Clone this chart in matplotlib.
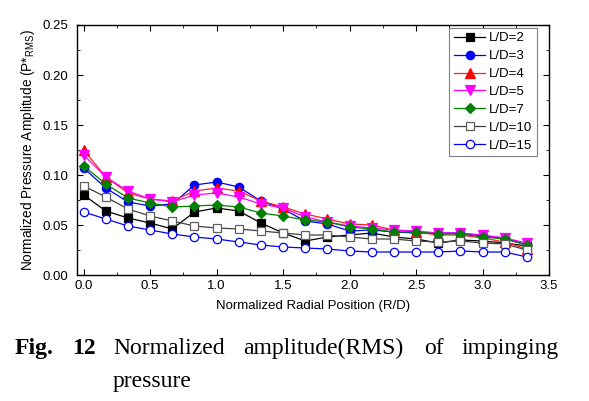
import matplotlib
matplotlib.use("Agg")
import matplotlib.pyplot as plt
from matplotlib.ticker import MultipleLocator

plt.rcParams['font.family'] = ['Liberation Sans', 'DejaVu Sans']
plt.rcParams['mathtext.fontset'] = 'custom'
plt.rcParams['mathtext.rm'] = 'Liberation Sans'
plt.rcParams['mathtext.it'] = 'Liberation Sans:italic'

x = [0, 1/6, 2/6, 3/6, 4/6, 5/6, 1.0, 7/6, 8/6, 9/6, 10/6, 11/6, 2.0,
     13/6, 14/6, 15/6, 16/6, 17/6, 3.0, 19/6, 20/6]

ld2 = [0.080, 0.064, 0.057, 0.052, 0.046, 0.063, 0.067, 0.064, 0.052, 0.042, 0.034, 0.038, 0.040,
       0.042, 0.038, 0.036, 0.032, 0.035, 0.034, 0.032, 0.029]
ld3 = [0.107, 0.087, 0.073, 0.069, 0.071, 0.090, 0.093, 0.088, 0.074, 0.066, 0.054, 0.051, 0.044,
       0.045, 0.043, 0.042, 0.042, 0.042, 0.039, 0.037, 0.030]
ld4 = [0.125, 0.098, 0.082, 0.076, 0.074, 0.084, 0.087, 0.084, 0.074, 0.068, 0.061, 0.056, 0.051,
       0.050, 0.045, 0.043, 0.040, 0.040, 0.037, 0.033, 0.026]
ld5 = [0.120, 0.098, 0.084, 0.076, 0.073, 0.080, 0.082, 0.078, 0.071, 0.067, 0.058, 0.053, 0.049,
       0.047, 0.045, 0.044, 0.042, 0.042, 0.040, 0.037, 0.032]
ld7 = [0.109, 0.091, 0.077, 0.072, 0.068, 0.069, 0.070, 0.068, 0.062, 0.059, 0.055, 0.053, 0.048,
       0.046, 0.043, 0.043, 0.041, 0.041, 0.038, 0.036, 0.030]
ld10 = [0.089, 0.078, 0.066, 0.059, 0.054, 0.049, 0.047, 0.046, 0.044, 0.042, 0.040, 0.040, 0.038,
        0.036, 0.036, 0.034, 0.033, 0.034, 0.032, 0.031, 0.025]
ld15 = [0.063, 0.056, 0.049, 0.045, 0.041, 0.038, 0.036, 0.033, 0.030, 0.028, 0.027, 0.026, 0.024,
        0.023, 0.023, 0.023, 0.023, 0.024, 0.023, 0.023, 0.018]

labels = ["L/D=2", "L/D=3", "L/D=4", "L/D=5", "L/D=7", "L/D=10", "L/D=15"]
series = [ld2, ld3, ld4, ld5, ld7, ld10, ld15]
styles = [
    dict(color='black', marker='s', mfc='black', mec='black', ms=5.5),
    dict(color='#0000ff', marker='o', mfc='#0000ff', mec='#0000ff', ms=6),
    dict(color='#ff2020', marker='^', mfc='#ff0000', mec='#ff0000', ms=6.5),
    dict(color='#ff00ff', marker='v', mfc='#ff00ff', mec='#ff00ff', ms=6.5),
    dict(color='#008000', marker='D', mfc='#008000', mec='#008000', ms=5.5),
    dict(color='#404040', marker='s', mfc='white', mec='#606060', ms=6),
    dict(color='#0000ff', marker='o', mfc='white', mec='#0000ff', ms=6),
]

fig = plt.figure(figsize=(5.89, 4.01), dpi=100)
ax = fig.add_axes([77/589, 1 - 275/401, (549-77)/589, (275-25)/401])

for y, lab, st in zip(series, labels, styles):
    ax.plot(x, y, label=lab, lw=0.9, mew=0.9, **st)

ax.set_xlim(-0.05, 3.5)
ax.set_ylim(0, 0.25)
ax.xaxis.set_major_locator(MultipleLocator(0.5))
ax.xaxis.set_minor_locator(MultipleLocator(0.25))
ax.yaxis.set_major_locator(MultipleLocator(0.05))
ax.yaxis.set_minor_locator(MultipleLocator(0.025))
ax.xaxis.set_major_formatter(plt.FormatStrFormatter('%.1f'))
ax.yaxis.set_major_formatter(plt.FormatStrFormatter('%.2f'))
ax.tick_params(which='both', direction='in', top=True, right=True, labelsize=9.5)
ax.tick_params(axis='y', pad=6)
ax.tick_params(which='major', length=4)
ax.tick_params(which='minor', length=2.5)
for s in ax.spines.values():
    s.set_linewidth(1.0)

ax.set_xlabel("Normalized Radial Position (R/D)", fontsize=9.5, labelpad=6)
ax.set_ylabel(r"Normalized Pressure Amplitude (P*$_{\mathrm{RMS}}$)", fontsize=9.8, labelpad=4)

leg = ax.legend(loc='upper right', bbox_to_anchor=(0.975, 0.99), fontsize=9.5,
                handlelength=2.4, labelspacing=0.43, borderpad=0.35, handletextpad=0.3,
                fancybox=False, framealpha=1, edgecolor='#808080', borderaxespad=0)
leg.get_frame().set_linewidth(0.8)

serif = ['Liberation Serif', 'DejaVu Serif']
fs = 17
fy1 = 1 - 354/401
fy2 = 1 - 387/401
fig.text(15/589, fy1, "Fig.", family=serif, weight='bold', fontsize=fs, va='baseline')
fig.text(72/589, fy1, "12", family=serif, weight='bold', fontsize=fs, va='baseline')
fig.text(113/589, fy1, "Normalized", family=serif, fontsize=fs, va='baseline')
fig.text(243/589, fy1, "amplitude(RMS)", family=serif, fontsize=fs, va='baseline')
fig.text(424/589, fy1, "of", family=serif, fontsize=fs, va='baseline')
fig.text(462/589, fy1, "impinging", family=serif, fontsize=fs, va='baseline')
fig.text(113/589, fy2, "pressure", family=serif, fontsize=fs, va='baseline')

fig.savefig("out.png", dpi=100)
